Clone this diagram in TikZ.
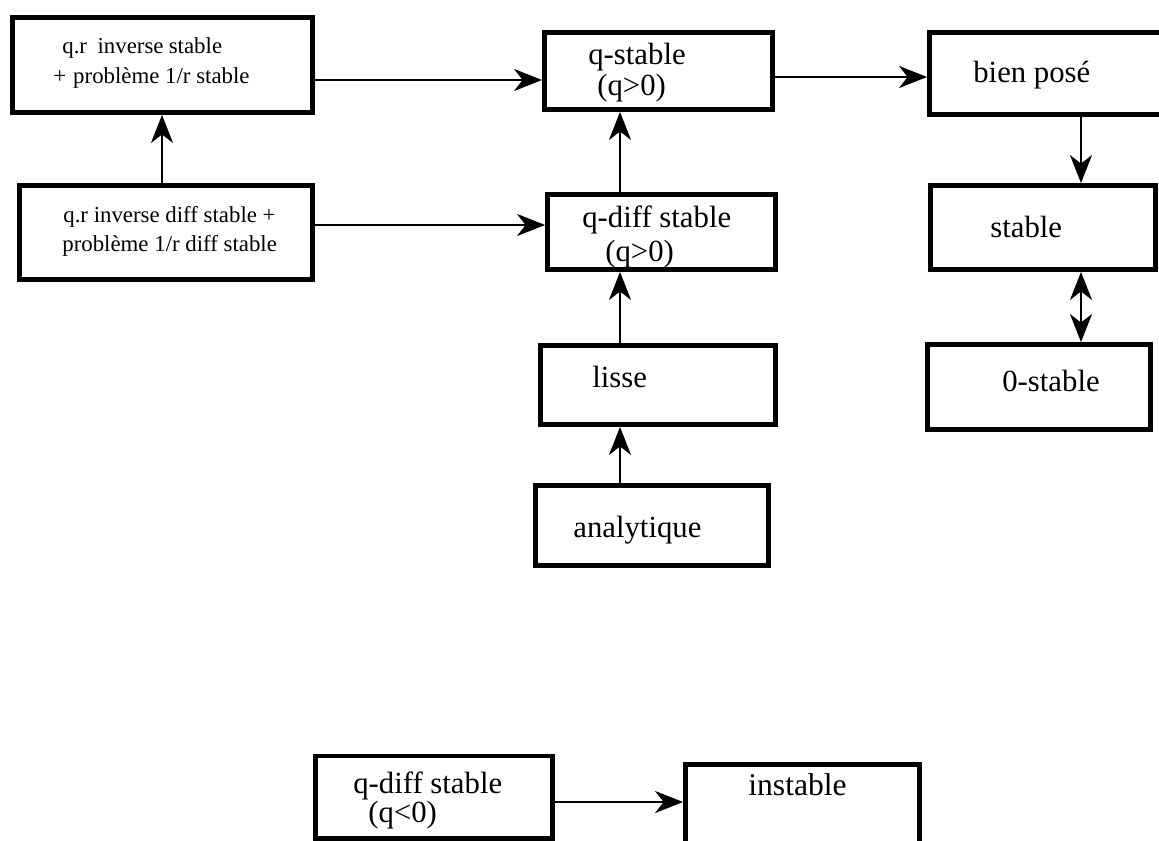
\documentclass[tikz,border=0pt]{standalone}
\usepackage{fontspec}
\setmainfont{Liberation Serif}
\usetikzlibrary{arrows.meta,calc}
\tikzset{
  bx/.style={draw, rectangle, line width=2.8pt, inner sep=0pt},
  lbl/.style={anchor=base west, inner sep=0pt, font=\fontsize{17.5}{19}\selectfont},
  slbl/.style={anchor=base west, inner sep=0pt, font=\fontsize{13}{15}\selectfont},
  arr/.style={-{Stealth[length=0.56cm, width=0.44cm, inset=0.17cm]}, line width=1.5pt},
  darr/.style={{Stealth[length=0.56cm, width=0.44cm, inset=0.17cm]}-{Stealth[length=0.56cm, width=0.44cm, inset=0.17cm]}, line width=1.5pt},
}

\begin{document}
\begin{tikzpicture}[x=0.02cm, y=-0.02cm]
  \useasboundingbox (0,0) rectangle (1159,841);
  \clip (0,0) rectangle (1159,841);

  % boxes
  \node[bx, minimum width=6cm, minimum height=1.9cm] (qr) at (162.5,65) {};
  \node[bx, minimum width=5.86cm, minimum height=1.88cm] (qrd) at (166,232.5) {};
  \node[bx, minimum width=4.56cm, minimum height=1.54cm] (qs) at (658.5,71) {};
  \node[bx, minimum width=4.56cm, minimum height=1.5cm] (qds) at (661.5,232) {};
  \node[bx, minimum width=4.7cm, minimum height=1.58cm] (lisse) at (658,385) {};
  \node[bx, minimum width=4.66cm, minimum height=1.6cm] (ana) at (652,525.5) {};
  \node[bx, minimum width=4.72cm, minimum height=1.64cm] (bp) at (1047.5,73.5) {};
  \node[bx, minimum width=4.5cm, minimum height=1.68cm] (st) at (1043,227.5) {};
  \node[bx, minimum width=4.46cm, minimum height=1.7cm] (zst) at (1039,387) {};
  \node[bx, minimum width=4.74cm, minimum height=1.65cm] (qneg) at (434,797.25) {};
  \node[bx, minimum width=4.68cm, minimum height=1.71cm] (inst) at (802.5,807) {};

  % texts
  \node[slbl] (tqr1) at (62,54) {q.r\hspace{6pt}inverse\hspace{3pt}stable};
  \node[slbl] (tqr2) at (53,84) {+\hspace{4pt}problème 1/r stable};
  \node[slbl] (tqrd1) at (63,223) {q.r inverse diff stable +};
  \node[slbl] (tqrd2) at (62,252) {problème 1/r diff stable};
  \node[lbl] (tqs1) at (588,65) {q-stable};
  \node[lbl] (tqs2) at (597,96) {(q>0)};
  \node[lbl] (tqds1) at (582,228) {q-diff stable};
  \node[lbl] (tqds2) at (605,261) {(q>0)};
  \node[lbl] (tlisse) at (592,387) {lisse};
  \node[lbl] (tana) at (573,537) {analytique};
  \node[lbl] (tbp) at (973,83) {bien posé};
  \node[lbl] (tst) at (990,237) {stable};
  \node[lbl] (tzst) at (1002,391) {0-stable};
  \node[lbl] (tqneg1) at (353,793) {q-diff stable};
  \node[lbl] (tqneg2) at (368,822) {(q<0)};
  \node[lbl, font=\fontsize{18}{20}\selectfont] (tinst) at (748,795) {instable};

  % connectors
  \coordinate (rowa) at (0,80);
  \coordinate (rowb) at (0,225);
  \coordinate (rowc) at (0,77);
  \coordinate (rowd) at (0,802);
  \coordinate (colq) at (620,0);
  \coordinate (colr) at (1081,0);
  \coordinate (colp) at (162,0);

  \draw[arr] (qr.east |- rowa) -- (qs.west |- rowa);
  \draw[arr] (qrd.east |- rowb) -- (qds.west |- rowb);
  \draw[arr] (qs.east |- rowc) -- (bp.west |- rowc);
  \draw[arr] (qrd.north -| colp) -- (qr.south -| colp);
  \draw[arr] (qds.north -| colq) -- (qs.south -| colq);
  \draw[arr] (lisse.north -| colq) -- (qds.south -| colq);
  \draw[arr] (ana.north -| colq) -- (lisse.south -| colq);
  \draw[arr] (bp.south -| colr) -- (st.north -| colr);
  \draw[darr] (st.south -| colr) -- (zst.north -| colr);
  \draw[arr] (qneg.east |- rowd) -- (inst.west |- rowd);
\end{tikzpicture}
\end{document}
